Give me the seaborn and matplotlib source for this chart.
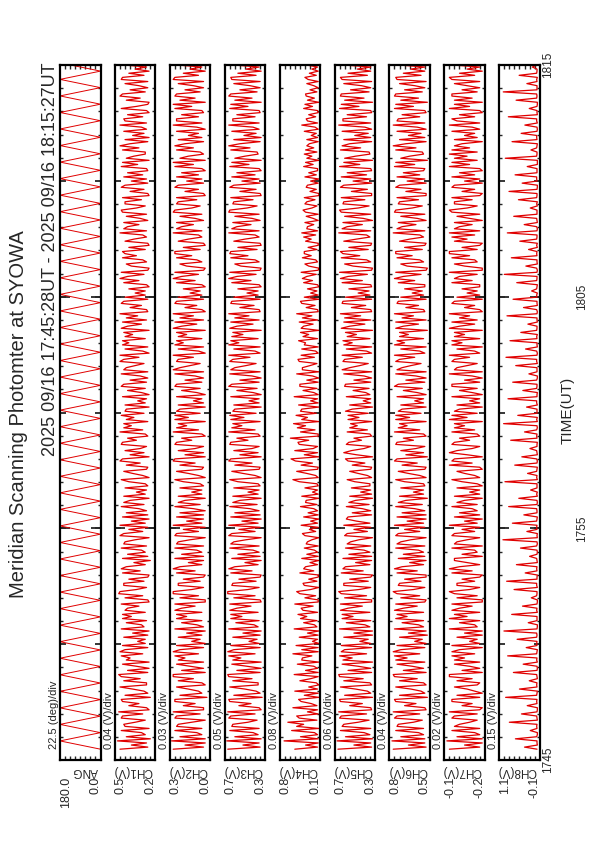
import numpy as np
import matplotlib.pyplot as plt
import matplotlib.transforms as mtransforms
import seaborn as sns

### Meridian scanning photometer, SYOWA  (page is the landscape plot turned 90 deg)
title = "Meridian Scanning Photomter at SYOWA"
period = "2025 09/16 17:45:28UT - 2025 09/16 18:15:27UT"
names = ["ANG", "CH1(V)", "CH2(V)", "CH3(V)", "CH4(V)", "CH5(V)", "CH6(V)", "CH7(V)", "CH8(V)"]
div_text = ["22.5 (deg)/div", "0.04 (V)/div", "0.03 (V)/div", "0.05 (V)/div", "0.08 (V)/div",
            "0.06 (V)/div", "0.04 (V)/div", "0.02 (V)/div", "0.15 (V)/div"]
lo = [0.0, 0.20, 0.04, 0.30, 0.15, 0.25, 0.50, -0.24, -0.10]
div = [22.5, 0.04, 0.03, 0.05, 0.08, 0.06, 0.04, 0.02, 0.15]
max_text = ["180.0", "0.5", "0.3", "0.7", "0.8", "0.7", "0.8", "-0.1", "1.1"]
min_text = ["0.0", "0.2", "0.0", "0.3", "0.1", "0.3", "0.5", "-0.2", "-0.1"]
time_ticks = [0, 10, 20, 30]          # minutes after 17:45
time_text = ["1745", "1755", "1805", "1815"]
t_first = 28 / 60                     # 17:45:28
t_last = 30 + 27 / 60                 # 18:15:27

# scan angle turning points (deg)
ang = [0, 180, 0, 180, 0, 180, 0, 180, 0, 180, 0, 180, 0, 180, 0, 180, 0,
       180, 0, 180, 0, 180, 0, 180, 0, 180, 0, 180, 0, 180, 0, 180, 0, 180,
       0, 180, 0, 180, 0, 180, 0, 180, 0, 180, 0, 180, 0, 180, 0, 180, 0,
       180, 0, 180, 0, 180, 0, 180, 0, 180, 0, 180, 0, 180, 0, 180, 0, 180,
       0, 180, 0, 180, 0, 180, 0, 180, 0, 180, 0, 180, 0, 180, 0, 180, 0]

ch1 = [0.48, 0.26, 0.39, 0.27, 0.50, 0.24, 0.43, 0.28, 0.31, 0.47, 0.25, 0.44, 0.45, 0.36, 0.28, 0.47,
       0.46, 0.30, 0.49, 0.25, 0.27, 0.41, 0.33, 0.46, 0.47, 0.24, 0.44, 0.26, 0.29, 0.38, 0.48, 0.27,
       0.27, 0.45, 0.32, 0.47, 0.49, 0.26, 0.42, 0.25, 0.35, 0.46, 0.25, 0.43, 0.40, 0.47, 0.30, 0.48,
       0.44, 0.26, 0.46, 0.28, 0.34, 0.28, 0.45, 0.26, 0.38, 0.25, 0.47, 0.29, 0.31, 0.43, 0.27, 0.46,
       0.39, 0.46, 0.28, 0.44, 0.42, 0.33, 0.47, 0.25, 0.26, 0.44, 0.30, 0.49, 0.48, 0.35, 0.27, 0.45,
       0.45, 0.29, 0.41, 0.26, 0.25, 0.46, 0.32, 0.47, 0.43, 0.28, 0.37, 0.24, 0.46, 0.26, 0.42, 0.28,
       0.31, 0.47, 0.27, 0.45, 0.44, 0.36, 0.25, 0.48, 0.45, 0.30, 0.41, 0.26, 0.48, 0.28, 0.39, 0.25,
       0.46, 0.26, 0.43, 0.27, 0.33, 0.47, 0.29, 0.45, 0.40, 0.25, 0.45, 0.28, 0.35, 0.27, 0.44, 0.26,
       0.28, 0.41, 0.47, 0.25, 0.30, 0.38, 0.45, 0.27, 0.26, 0.43, 0.32, 0.48, 0.46, 0.25, 0.40, 0.29,
       0.44, 0.32, 0.27, 0.47, 0.46, 0.35, 0.42, 0.26, 0.28, 0.48, 0.30, 0.45, 0.39, 0.45, 0.26, 0.43,
       0.37, 0.47, 0.29, 0.44, 0.43, 0.25, 0.44, 0.28, 0.34, 0.27, 0.46, 0.25, 0.31, 0.42, 0.28, 0.47,
       0.45, 0.27, 0.40, 0.26, 0.32, 0.47, 0.26, 0.45, 0.43, 0.36, 0.29, 0.48, 0.45, 0.33, 0.48, 0.25,
       0.30, 0.44, 0.26, 0.46, 0.41, 0.46, 0.28, 0.44, 0.38, 0.45, 0.25, 0.47, 0.42, 0.31, 0.46, 0.27,
       0.43, 0.34, 0.48, 0.26, 0.27, 0.40, 0.31, 0.47, 0.45, 0.26, 0.44, 0.28, 0.36, 0.28, 0.41, 0.25,
       0.27, 0.45, 0.33, 0.48, 0.42, 0.29, 0.47, 0.26, 0.25, 0.39, 0.43, 0.27, 0.30, 0.46, 0.35, 0.44,
       0.46, 0.28, 0.41, 0.25, 0.26, 0.44, 0.37, 0.27, 0.30, 0.48, 0.27, 0.45, 0.42, 0.33, 0.45, 0.26,
       0.32, 0.43, 0.27, 0.46, 0.47, 0.35, 0.28, 0.44, 0.44, 0.31, 0.46, 0.25, 0.26, 0.40, 0.29, 0.47,
       0.44, 0.26, 0.39, 0.27, 0.45, 0.30, 0.42, 0.26, 0.27, 0.47, 0.34, 0.46, 0.25, 0.43, 0.37, 0.28,
       0.28, 0.46, 0.33, 0.48, 0.40, 0.26, 0.44, 0.25, 0.38, 0.29, 0.45, 0.27, 0.31, 0.48, 0.27, 0.44,
       0.45, 0.30, 0.42, 0.25, 0.27, 0.47, 0.35, 0.26, 0.25, 0.43, 0.32, 0.48, 0.46, 0.28, 0.40, 0.26,
       0.33, 0.44, 0.26, 0.47, 0.46, 0.29, 0.41, 0.25, 0.36, 0.27, 0.45, 0.28, 0.30, 0.42, 0.38, 0.26]

ch2 = [0.26, 0.08, 0.19, 0.07, 0.27, 0.07, 0.22, 0.09, 0.12, 0.25, 0.09, 0.24, 0.23, 0.15, 0.07, 0.25,
       0.24, 0.10, 0.26, 0.08, 0.08, 0.20, 0.13, 0.25, 0.25, 0.06, 0.22, 0.09, 0.11, 0.17, 0.24, 0.07,
       0.09, 0.23, 0.14, 0.26, 0.26, 0.07, 0.21, 0.08, 0.16, 0.24, 0.08, 0.23, 0.19, 0.25, 0.11, 0.26,
       0.22, 0.08, 0.24, 0.07, 0.15, 0.10, 0.23, 0.09, 0.18, 0.07, 0.25, 0.08, 0.12, 0.21, 0.09, 0.24,
       0.18, 0.24, 0.09, 0.25, 0.21, 0.13, 0.25, 0.07, 0.07, 0.22, 0.11, 0.26, 0.26, 0.15, 0.08, 0.23,
       0.23, 0.10, 0.20, 0.08, 0.07, 0.24, 0.13, 0.26, 0.22, 0.09, 0.17, 0.08, 0.25, 0.08, 0.21, 0.09,
       0.12, 0.25, 0.08, 0.24, 0.23, 0.16, 0.07, 0.25, 0.24, 0.11, 0.20, 0.07, 0.26, 0.09, 0.18, 0.08,
       0.24, 0.08, 0.22, 0.07, 0.14, 0.25, 0.10, 0.23, 0.19, 0.07, 0.23, 0.09, 0.15, 0.09, 0.22, 0.08,
       0.10, 0.20, 0.25, 0.07, 0.11, 0.17, 0.24, 0.09, 0.08, 0.22, 0.13, 0.26, 0.25, 0.07, 0.19, 0.08,
       0.23, 0.13, 0.08, 0.25, 0.24, 0.15, 0.21, 0.07, 0.09, 0.26, 0.11, 0.24, 0.18, 0.23, 0.07, 0.25,
       0.17, 0.25, 0.10, 0.24, 0.22, 0.07, 0.23, 0.08, 0.14, 0.09, 0.24, 0.07, 0.12, 0.21, 0.10, 0.25,
       0.24, 0.09, 0.19, 0.08, 0.13, 0.25, 0.08, 0.26, 0.22, 0.16, 0.10, 0.24, 0.23, 0.14, 0.26, 0.07,
       0.11, 0.23, 0.08, 0.25, 0.20, 0.24, 0.09, 0.23, 0.18, 0.24, 0.07, 0.26, 0.21, 0.12, 0.25, 0.08,
       0.22, 0.14, 0.26, 0.07, 0.09, 0.19, 0.12, 0.25, 0.24, 0.08, 0.23, 0.09, 0.16, 0.10, 0.20, 0.07,
       0.09, 0.24, 0.13, 0.26, 0.21, 0.11, 0.25, 0.08, 0.07, 0.18, 0.22, 0.09, 0.12, 0.24, 0.15, 0.25,
       0.25, 0.10, 0.20, 0.07, 0.08, 0.23, 0.17, 0.09, 0.11, 0.26, 0.09, 0.24, 0.21, 0.14, 0.24, 0.08,
       0.13, 0.22, 0.09, 0.26, 0.25, 0.15, 0.10, 0.24, 0.23, 0.12, 0.24, 0.07, 0.08, 0.19, 0.11, 0.25,
       0.23, 0.08, 0.18, 0.09, 0.24, 0.11, 0.21, 0.07, 0.09, 0.25, 0.14, 0.26, 0.07, 0.22, 0.17, 0.08,
       0.10, 0.24, 0.14, 0.25, 0.19, 0.08, 0.23, 0.09, 0.17, 0.11, 0.24, 0.07, 0.12, 0.26, 0.09, 0.24,
       0.24, 0.11, 0.21, 0.08, 0.09, 0.25, 0.15, 0.26, 0.07, 0.22, 0.13, 0.25, 0.24, 0.10, 0.19, 0.08,
       0.14, 0.23, 0.08, 0.26, 0.25, 0.11, 0.20, 0.07, 0.16, 0.09, 0.24, 0.08, 0.12, 0.21, 0.18, 0.07]

ch3 = [0.67, 0.35, 0.52, 0.36, 0.68, 0.34, 0.60, 0.37, 0.42, 0.65, 0.36, 0.63, 0.62, 0.47, 0.38, 0.66,
       0.64, 0.40, 0.67, 0.34, 0.36, 0.56, 0.44, 0.65, 0.66, 0.33, 0.61, 0.35, 0.39, 0.50, 0.65, 0.37,
       0.37, 0.62, 0.43, 0.66, 0.67, 0.35, 0.58, 0.34, 0.48, 0.63, 0.34, 0.62, 0.54, 0.66, 0.40, 0.67,
       0.61, 0.35, 0.64, 0.36, 0.46, 0.38, 0.62, 0.35, 0.52, 0.34, 0.66, 0.37, 0.41, 0.59, 0.36, 0.64,
       0.53, 0.64, 0.37, 0.65, 0.58, 0.44, 0.65, 0.34, 0.35, 0.61, 0.40, 0.67, 0.67, 0.47, 0.36, 0.63,
       0.62, 0.39, 0.56, 0.35, 0.34, 0.64, 0.43, 0.66, 0.60, 0.37, 0.50, 0.34, 0.63, 0.35, 0.57, 0.36,
       0.42, 0.65, 0.36, 0.64, 0.61, 0.49, 0.34, 0.66, 0.63, 0.40, 0.56, 0.35, 0.66, 0.37, 0.53, 0.34,
       0.64, 0.35, 0.60, 0.36, 0.45, 0.65, 0.38, 0.62, 0.55, 0.34, 0.62, 0.37, 0.47, 0.36, 0.61, 0.35,
       0.37, 0.57, 0.65, 0.34, 0.40, 0.52, 0.63, 0.36, 0.35, 0.60, 0.43, 0.66, 0.64, 0.34, 0.55, 0.37,
       0.61, 0.43, 0.36, 0.65, 0.64, 0.47, 0.58, 0.35, 0.37, 0.66, 0.40, 0.63, 0.53, 0.62, 0.35, 0.64,
       0.51, 0.65, 0.39, 0.62, 0.60, 0.34, 0.61, 0.36, 0.46, 0.36, 0.64, 0.34, 0.42, 0.58, 0.38, 0.66,
       0.63, 0.36, 0.55, 0.34, 0.43, 0.65, 0.35, 0.64, 0.60, 0.49, 0.39, 0.65, 0.62, 0.45, 0.66, 0.35,
       0.40, 0.61, 0.35, 0.66, 0.56, 0.64, 0.37, 0.63, 0.52, 0.62, 0.34, 0.65, 0.58, 0.42, 0.64, 0.36,
       0.60, 0.46, 0.66, 0.35, 0.36, 0.55, 0.41, 0.64, 0.63, 0.35, 0.61, 0.37, 0.48, 0.37, 0.57, 0.34,
       0.36, 0.63, 0.44, 0.66, 0.58, 0.39, 0.65, 0.35, 0.34, 0.54, 0.60, 0.36, 0.40, 0.64, 0.47, 0.65,
       0.64, 0.38, 0.57, 0.34, 0.35, 0.61, 0.50, 0.36, 0.40, 0.66, 0.36, 0.63, 0.58, 0.44, 0.62, 0.35,
       0.43, 0.60, 0.36, 0.66, 0.65, 0.48, 0.38, 0.62, 0.61, 0.42, 0.64, 0.34, 0.35, 0.55, 0.39, 0.65,
       0.61, 0.35, 0.53, 0.36, 0.63, 0.40, 0.58, 0.34, 0.36, 0.65, 0.46, 0.63, 0.34, 0.60, 0.50, 0.37,
       0.38, 0.64, 0.45, 0.66, 0.55, 0.35, 0.61, 0.34, 0.51, 0.39, 0.63, 0.36, 0.42, 0.66, 0.36, 0.62,
       0.62, 0.40, 0.58, 0.35, 0.36, 0.65, 0.47, 0.64, 0.34, 0.60, 0.43, 0.66, 0.64, 0.38, 0.55, 0.35,
       0.45, 0.61, 0.35, 0.63, 0.64, 0.39, 0.57, 0.34, 0.49, 0.36, 0.62, 0.35, 0.41, 0.58, 0.52, 0.36]

ch4 = [0.55, 0.19, 0.38, 0.18, 0.72, 0.18, 0.46, 0.19, 0.24, 0.60, 0.17, 0.52, 0.41, 0.66, 0.20, 0.48,
       0.52, 0.18, 0.35, 0.19, 0.58, 0.20, 0.29, 0.45, 0.49, 0.17, 0.40, 0.18, 0.55, 0.19, 0.33, 0.17,
       0.21, 0.47, 0.30, 0.18, 0.56, 0.18, 0.38, 0.19, 0.25, 0.51, 0.17, 0.44, 0.43, 0.28, 0.58, 0.18,
       0.44, 0.18, 0.53, 0.17, 0.27, 0.19, 0.48, 0.18, 0.35, 0.17, 0.56, 0.20, 0.24, 0.41, 0.20, 0.46,
       0.36, 0.50, 0.19, 0.42, 0.45, 0.26, 0.55, 0.18, 0.18, 0.39, 0.22, 0.47, 0.52, 0.30, 0.17, 0.40,
       0.42, 0.20, 0.33, 0.18, 0.17, 0.47, 0.25, 0.41, 0.38, 0.19, 0.31, 0.17, 0.44, 0.18, 0.36, 0.19,
       0.24, 0.40, 0.18, 0.37, 0.35, 0.28, 0.17, 0.39, 0.43, 0.22, 0.32, 0.18, 0.45, 0.19, 0.30, 0.17,
       0.41, 0.18, 0.34, 0.19, 0.25, 0.46, 0.20, 0.38, 0.37, 0.17, 0.44, 0.18, 0.27, 0.19, 0.39, 0.18,
       0.20, 0.48, 0.58, 0.18, 0.22, 0.36, 0.52, 0.19, 0.18, 0.45, 0.27, 0.54, 0.61, 0.17, 0.40, 0.19,
       0.55, 0.26, 0.19, 0.48, 0.50, 0.33, 0.62, 0.18, 0.18, 0.46, 0.23, 0.51, 0.38, 0.57, 0.17, 0.44,
       0.35, 0.53, 0.21, 0.46, 0.44, 0.17, 0.49, 0.18, 0.30, 0.19, 0.56, 0.18, 0.25, 0.42, 0.20, 0.47,
       0.47, 0.18, 0.36, 0.17, 0.27, 0.52, 0.17, 0.43, 0.43, 0.31, 0.20, 0.48, 0.50, 0.24, 0.45, 0.18,
       0.22, 0.44, 0.18, 0.40, 0.38, 0.49, 0.19, 0.42, 0.33, 0.46, 0.17, 0.45, 0.41, 0.26, 0.48, 0.19,
       0.43, 0.28, 0.52, 0.18, 0.19, 0.37, 0.23, 0.44, 0.46, 0.17, 0.40, 0.18, 0.30, 0.20, 0.35, 0.17,
       0.19, 0.41, 0.27, 0.43, 0.36, 0.21, 0.45, 0.18, 0.17, 0.33, 0.39, 0.19, 0.22, 0.43, 0.29, 0.40,
       0.40, 0.20, 0.34, 0.18, 0.18, 0.38, 0.29, 0.41, 0.22, 0.44, 0.19, 0.36, 0.35, 0.25, 0.39, 0.18,
       0.26, 0.37, 0.18, 0.38, 0.42, 0.28, 0.20, 0.39, 0.36, 0.23, 0.40, 0.17, 0.17, 0.31, 0.21, 0.37,
       0.35, 0.18, 0.30, 0.17, 0.39, 0.21, 0.33, 0.19, 0.19, 0.41, 0.26, 0.38, 0.17, 0.36, 0.28, 0.40,
       0.20, 0.38, 0.25, 0.36, 0.32, 0.18, 0.36, 0.19, 0.29, 0.21, 0.40, 0.18, 0.23, 0.44, 0.19, 0.35,
       0.37, 0.22, 0.33, 0.18, 0.19, 0.41, 0.27, 0.39, 0.17, 0.35, 0.24, 0.37, 0.38, 0.20, 0.31, 0.18,
       0.25, 0.36, 0.18, 0.34, 0.39, 0.21, 0.32, 0.18, 0.28, 0.19, 0.37, 0.20, 0.22, 0.34, 0.30, 0.19]

ch5 = [0.69, 0.29, 0.50, 0.30, 0.70, 0.28, 0.60, 0.31, 0.38, 0.66, 0.30, 0.64, 0.62, 0.45, 0.32, 0.67,
       0.65, 0.35, 0.68, 0.29, 0.30, 0.55, 0.40, 0.66, 0.67, 0.28, 0.61, 0.30, 0.34, 0.48, 0.66, 0.29,
       0.31, 0.62, 0.39, 0.67, 0.68, 0.29, 0.57, 0.30, 0.45, 0.64, 0.28, 0.63, 0.52, 0.67, 0.35, 0.65,
       0.61, 0.29, 0.65, 0.30, 0.43, 0.33, 0.62, 0.28, 0.50, 0.28, 0.67, 0.31, 0.37, 0.59, 0.30, 0.64,
       0.51, 0.64, 0.31, 0.66, 0.57, 0.40, 0.66, 0.29, 0.29, 0.61, 0.35, 0.65, 0.68, 0.44, 0.30, 0.62,
       0.62, 0.33, 0.55, 0.30, 0.28, 0.65, 0.39, 0.63, 0.60, 0.31, 0.48, 0.29, 0.63, 0.29, 0.56, 0.31,
       0.38, 0.60, 0.30, 0.58, 0.54, 0.44, 0.28, 0.61, 0.58, 0.34, 0.50, 0.30, 0.62, 0.31, 0.47, 0.59,
       0.57, 0.29, 0.52, 0.30, 0.40, 0.59, 0.32, 0.56, 0.48, 0.28, 0.55, 0.29, 0.42, 0.30, 0.53, 0.31,
       0.31, 0.49, 0.58, 0.29, 0.34, 0.45, 0.55, 0.30, 0.29, 0.52, 0.37, 0.57, 0.60, 0.28, 0.47, 0.62,
       0.53, 0.38, 0.30, 0.59, 0.56, 0.41, 0.50, 0.29, 0.31, 0.58, 0.34, 0.55, 0.46, 0.54, 0.29, 0.57,
       0.44, 0.57, 0.33, 0.60, 0.52, 0.28, 0.55, 0.30, 0.39, 0.30, 0.59, 0.31, 0.36, 0.51, 0.32, 0.61,
       0.60, 0.30, 0.50, 0.29, 0.38, 0.62, 0.29, 0.64, 0.55, 0.43, 0.33, 0.63, 0.61, 0.40, 0.64, 0.29,
       0.35, 0.59, 0.29, 0.62, 0.52, 0.63, 0.31, 0.58, 0.47, 0.60, 0.28, 0.65, 0.55, 0.37, 0.62, 0.30,
       0.61, 0.42, 0.66, 0.29, 0.30, 0.53, 0.36, 0.64, 0.63, 0.29, 0.60, 0.31, 0.45, 0.32, 0.56, 0.29,
       0.30, 0.64, 0.40, 0.66, 0.57, 0.34, 0.67, 0.29, 0.28, 0.51, 0.61, 0.30, 0.35, 0.65, 0.43, 0.63,
       0.66, 0.33, 0.56, 0.30, 0.29, 0.62, 0.47, 0.31, 0.35, 0.68, 0.30, 0.64, 0.58, 0.40, 0.63, 0.28,
       0.39, 0.61, 0.30, 0.65, 0.67, 0.45, 0.32, 0.63, 0.62, 0.37, 0.65, 0.29, 0.29, 0.53, 0.34, 0.66,
       0.62, 0.29, 0.51, 0.30, 0.65, 0.35, 0.58, 0.29, 0.30, 0.67, 0.43, 0.62, 0.28, 0.61, 0.48, 0.31,
       0.32, 0.66, 0.42, 0.64, 0.55, 0.29, 0.62, 0.30, 0.49, 0.33, 0.64, 0.29, 0.37, 0.68, 0.30, 0.63,
       0.63, 0.35, 0.58, 0.29, 0.30, 0.67, 0.44, 0.65, 0.28, 0.61, 0.38, 0.66, 0.65, 0.32, 0.54, 0.30,
       0.41, 0.62, 0.29, 0.64, 0.66, 0.34, 0.57, 0.30, 0.46, 0.30, 0.63, 0.29, 0.36, 0.59, 0.50, 0.31]

ch6 = [0.79, 0.53, 0.67, 0.54, 0.80, 0.54, 0.73, 0.55, 0.59, 0.77, 0.55, 0.76, 0.75, 0.63, 0.56, 0.78,
       0.76, 0.58, 0.79, 0.53, 0.54, 0.70, 0.61, 0.77, 0.78, 0.52, 0.74, 0.54, 0.57, 0.65, 0.77, 0.53,
       0.55, 0.74, 0.60, 0.78, 0.79, 0.53, 0.71, 0.55, 0.64, 0.76, 0.54, 0.77, 0.68, 0.78, 0.58, 0.79,
       0.73, 0.54, 0.76, 0.53, 0.62, 0.56, 0.74, 0.52, 0.67, 0.53, 0.78, 0.55, 0.59, 0.72, 0.55, 0.77,
       0.68, 0.76, 0.55, 0.78, 0.71, 0.60, 0.77, 0.54, 0.53, 0.73, 0.58, 0.76, 0.79, 0.63, 0.54, 0.75,
       0.74, 0.57, 0.70, 0.53, 0.53, 0.76, 0.60, 0.78, 0.72, 0.55, 0.66, 0.53, 0.75, 0.54, 0.71, 0.55,
       0.59, 0.77, 0.54, 0.76, 0.73, 0.65, 0.53, 0.77, 0.75, 0.58, 0.70, 0.54, 0.78, 0.55, 0.68, 0.53,
       0.76, 0.53, 0.72, 0.54, 0.62, 0.77, 0.56, 0.75, 0.69, 0.52, 0.74, 0.55, 0.63, 0.55, 0.73, 0.54,
       0.55, 0.70, 0.77, 0.53, 0.58, 0.67, 0.75, 0.54, 0.53, 0.72, 0.60, 0.78, 0.76, 0.52, 0.69, 0.55,
       0.73, 0.61, 0.54, 0.77, 0.76, 0.63, 0.71, 0.53, 0.55, 0.78, 0.58, 0.75, 0.68, 0.74, 0.53, 0.77,
       0.66, 0.77, 0.57, 0.75, 0.72, 0.53, 0.73, 0.55, 0.62, 0.55, 0.76, 0.53, 0.60, 0.71, 0.56, 0.78,
       0.75, 0.54, 0.69, 0.53, 0.61, 0.77, 0.53, 0.76, 0.72, 0.65, 0.57, 0.77, 0.74, 0.62, 0.78, 0.54,
       0.58, 0.73, 0.53, 0.78, 0.70, 0.76, 0.55, 0.74, 0.67, 0.74, 0.52, 0.77, 0.71, 0.59, 0.77, 0.53,
       0.72, 0.63, 0.78, 0.54, 0.55, 0.69, 0.59, 0.76, 0.75, 0.53, 0.73, 0.55, 0.64, 0.56, 0.70, 0.54,
       0.54, 0.75, 0.62, 0.78, 0.71, 0.57, 0.77, 0.53, 0.52, 0.68, 0.73, 0.55, 0.58, 0.76, 0.64, 0.77,
       0.77, 0.56, 0.70, 0.54, 0.53, 0.74, 0.66, 0.55, 0.58, 0.79, 0.54, 0.76, 0.72, 0.61, 0.75, 0.53,
       0.60, 0.73, 0.54, 0.78, 0.77, 0.64, 0.56, 0.75, 0.74, 0.59, 0.76, 0.53, 0.53, 0.69, 0.57, 0.77,
       0.74, 0.53, 0.68, 0.54, 0.76, 0.58, 0.71, 0.55, 0.54, 0.78, 0.62, 0.77, 0.52, 0.73, 0.66, 0.55,
       0.56, 0.77, 0.61, 0.79, 0.69, 0.53, 0.74, 0.54, 0.67, 0.57, 0.76, 0.53, 0.60, 0.79, 0.54, 0.76,
       0.75, 0.58, 0.72, 0.53, 0.54, 0.78, 0.63, 0.77, 0.52, 0.73, 0.59, 0.78, 0.77, 0.56, 0.70, 0.54,
       0.62, 0.74, 0.53, 0.76, 0.77, 0.57, 0.71, 0.54, 0.65, 0.54, 0.75, 0.53, 0.58, 0.72, 0.67, 0.55]

ch7 = [-0.10, -0.22, -0.16, -0.23, -0.09, -0.23, -0.13, -0.22, -0.20, -0.11, -0.22, -0.12, -0.14, -0.18, -0.21, -0.11,
       -0.12, -0.21, -0.10, -0.22, -0.23, -0.15, -0.19, -0.11, -0.11, -0.22, -0.13, -0.23, -0.20, -0.17, -0.12, -0.21,
       -0.22, -0.13, -0.19, -0.10, -0.10, -0.23, -0.15, -0.22, -0.18, -0.12, -0.22, -0.12, -0.16, -0.11, -0.20, -0.11,
       -0.14, -0.23, -0.11, -0.22, -0.18, -0.21, -0.13, -0.23, -0.16, -0.23, -0.10, -0.21, -0.20, -0.14, -0.22, -0.10,
       -0.17, -0.12, -0.22, -0.11, -0.14, -0.19, -0.11, -0.23, -0.23, -0.13, -0.21, -0.12, -0.10, -0.18, -0.22, -0.13,
       -0.13, -0.20, -0.15, -0.22, -0.23, -0.11, -0.19, -0.10, -0.14, -0.22, -0.17, -0.12, -0.12, -0.23, -0.15, -0.21,
       -0.20, -0.11, -0.23, -0.12, -0.13, -0.17, -0.22, -0.11, -0.12, -0.20, -0.15, -0.22, -0.10, -0.21, -0.16, -0.23,
       -0.12, -0.22, -0.14, -0.21, -0.19, -0.11, -0.21, -0.13, -0.16, -0.23, -0.12, -0.22, -0.18, -0.22, -0.13, -0.23,
       -0.21, -0.15, -0.11, -0.22, -0.20, -0.16, -0.13, -0.23, -0.22, -0.10, -0.19, -0.11, -0.12, -0.23, -0.17, -0.10,
       -0.13, -0.19, -0.22, -0.11, -0.12, -0.18, -0.14, -0.22, -0.21, -0.11, -0.20, -0.12, -0.16, -0.12, -0.23, -0.10,
       -0.17, -0.11, -0.21, -0.12, -0.14, -0.23, -0.13, -0.22, -0.18, -0.22, -0.11, -0.23, -0.19, -0.14, -0.21, -0.11,
       -0.11, -0.22, -0.16, -0.23, -0.19, -0.10, -0.23, -0.12, -0.13, -0.17, -0.21, -0.11, -0.12, -0.18, -0.10, -0.22,
       -0.20, -0.13, -0.23, -0.11, -0.15, -0.11, -0.22, -0.12, -0.16, -0.12, -0.23, -0.10, -0.14, -0.20, -0.11, -0.21,
       -0.14, -0.18, -0.10, -0.23, -0.22, -0.16, -0.20, -0.11, -0.12, -0.23, -0.13, -0.22, -0.17, -0.21, -0.15, -0.22,
       -0.22, -0.11, -0.19, -0.12, -0.14, -0.21, -0.10, -0.23, -0.23, -0.16, -0.12, -0.21, -0.20, -0.11, -0.18, -0.10,
       -0.10, -0.21, -0.15, -0.22, -0.23, -0.12, -0.17, -0.11, -0.20, -0.10, -0.22, -0.12, -0.14, -0.19, -0.12, -0.23,
       -0.18, -0.13, -0.22, -0.11, -0.10, -0.17, -0.21, -0.12, -0.12, -0.19, -0.11, -0.22, -0.23, -0.15, -0.20, -0.11,
       -0.12, -0.23, -0.16, -0.22, -0.11, -0.20, -0.14, -0.23, -0.22, -0.10, -0.18, -0.11, -0.21, -0.12, -0.17, -0.10,
       -0.21, -0.11, -0.18, -0.12, -0.15, -0.23, -0.12, -0.21, -0.16, -0.20, -0.11, -0.22, -0.19, -0.10, -0.22, -0.13,
       -0.11, -0.20, -0.14, -0.23, -0.22, -0.10, -0.18, -0.12, -0.23, -0.12, -0.19, -0.11, -0.11, -0.21, -0.15, -0.22,
       -0.17, -0.12, -0.22, -0.11, -0.10, -0.20, -0.14, -0.23, -0.17, -0.22, -0.11, -0.21, -0.19, -0.13, -0.16, -0.22]

ch8 = [-0.02, 0.35, -0.03, -0.02, -0.02, 0.62, -0.01, -0.03, -0.03, 0.18, -0.02, -0.01, -0.02, 0.80, -0.03, -0.02,
       -0.01, 0.44, -0.02, -0.03, -0.03, 0.27, -0.02, -0.01, -0.02, 0.91, -0.01, -0.02, -0.03, 0.50, -0.02, -0.01,
       -0.02, 0.21, -0.03, -0.02, -0.01, 0.68, -0.02, -0.03, -0.02, 0.39, -0.03, -0.01, -0.02, 0.85, -0.01, -0.02,
       -0.03, 0.30, -0.02, -0.01, -0.02, 0.57, -0.01, -0.02, -0.01, 0.96, -0.02, -0.03, -0.03, 0.24, -0.02, -0.02,
       -0.02, 0.73, -0.03, -0.01, -0.02, 0.41, -0.02, -0.03, -0.03, 0.15, -0.01, -0.02, -0.02, 0.66, -0.03, -0.01,
       -0.01, 0.88, -0.02, -0.02, -0.03, 0.33, -0.02, -0.01, -0.02, 0.59, -0.03, -0.02, -0.01, 0.20, -0.02, -0.03,
       -0.02, 0.47, -0.01, -0.03, -0.02, 0.99, -0.03, -0.02, -0.03, 0.28, -0.02, -0.01, -0.02, 0.71, -0.01, -0.02,
       -0.03, 0.37, -0.02, -0.02, -0.01, 0.82, -0.02, -0.03, -0.02, 0.52, -0.03, -0.01, -0.03, 0.17, -0.02, -0.02,
       -0.02, 0.93, -0.03, -0.01, -0.02, 0.26, -0.01, -0.02, -0.03, 0.64, -0.02, -0.03, -0.01, 0.43, -0.03, -0.02,
       -0.01, 0.19, -0.02, -0.02, -0.03, 0.76, -0.02, -0.01, -0.02, 0.35, -0.01, -0.03, -0.02, 0.97, -0.03, -0.01,
       -0.03, 0.55, -0.02, -0.02, -0.02, 0.29, -0.03, -0.01, -0.01, 0.84, -0.02, -0.02, -0.03, 0.40, -0.01, -0.02,
       -0.02, 0.70, -0.01, -0.03, -0.03, 0.22, -0.02, -0.02, -0.02, 0.61, -0.03, -0.01, -0.01, 0.90, -0.02, -0.03,
       -0.01, 0.32, -0.03, -0.02, -0.02, 0.78, -0.02, -0.01, -0.03, 0.46, -0.01, -0.02, -0.02, 0.25, -0.03, -0.02,
       -0.02, 0.87, -0.02, -0.03, -0.01, 0.38, -0.03, -0.02, -0.02, 0.69, -0.02, -0.01, -0.03, 0.14, -0.01, -0.02,
       -0.03, 0.58, -0.01, -0.02, -0.02, 0.95, -0.02, -0.03, -0.01, 0.31, -0.03, -0.02, -0.02, 0.74, -0.02, -0.01,
       -0.02, 0.23, -0.03, -0.01, -0.03, 0.49, -0.01, -0.02, -0.02, 0.86, -0.02, -0.03, -0.01, 0.36, -0.03, -0.02,
       -0.01, 0.67, -0.02, -0.02, -0.02, 0.18, -0.03, -0.01, -0.03, 0.53, -0.01, -0.02, -0.02, 0.81, -0.02, -0.03,
       -0.03, 0.42, -0.02, -0.01, -0.01, 0.63, -0.02, -0.02, -0.02, 0.27, -0.03, -0.03, -0.03, 0.92, -0.01, -0.02,
       -0.02, 0.16, -0.01, -0.02, -0.03, 0.72, -0.02, -0.01, -0.01, 0.45, -0.02, -0.03, -0.02, 0.34, -0.03, -0.01,
       -0.01, 0.83, -0.03, -0.02, -0.02, 0.21, -0.02, -0.03, -0.03, 0.60, -0.01, -0.02, -0.01, 0.98, -0.02, -0.02,
       -0.02, 0.28, -0.02, -0.01, -0.03, 0.51, -0.01, -0.02, -0.02, 0.12, -0.03, -0.03, -0.02, 0.75, -0.02, -0.01]

series = [ang, ch1, ch2, ch3, ch4, ch5, ch6, ch7, ch8]

sns.set_style("white")
plt.rcParams['font.family'] = ['Liberation Sans', 'DejaVu Sans']

W, H = 595, 842
fig = plt.figure(figsize=(W / 100, H / 100), dpi=100)
fig.text(19 / W, 1 - 414 / H, title, rotation=90, ha='center', va='center', fontsize=14.5)
fig.text(51 / W, 1 - 62 / H, period, rotation=90, ha='center', va='top', fontsize=13)

pw, ph = 40.5, 695   # panel size in px
for i in range(9):
    vals = np.array(series[i])
    tt = np.linspace(t_first, t_last, len(vals))
    x0 = 60 + 54.9 * i
    ax = fig.add_axes([x0 / W, 82 / H, pw / W, ph / H])
    sns.lineplot(x=vals, y=tt, orient='y', estimator=None, color='#e00000',
                 linewidth=0.7 if i == 0 else 0.9, ax=ax)
    ax.set_xlim(lo[i] + 8 * div[i], lo[i])
    ax.set_ylim(0, 30)
    ax.set_xlabel('')
    ax.set_ylabel('')
    ax.set_xticks([lo[i] + k * div[i] for k in range(1, 8)])
    ax.set_yticks(range(0, 31, 5))
    ax.set_yticks(range(0, 31), minor=True)
    ax.tick_params(axis='x', which='both', direction='in', length=3, width=1,
                   top=True, bottom=True, labelbottom=False, labeltop=False)
    ax.tick_params(axis='y', which='major', direction='in', length=4.5, width=1.3,
                   left=True, right=True, labelleft=False, labelright=False)
    ax.tick_params(axis='y', which='minor', direction='in', length=2.5, width=1,
                   left=True, right=True)
    for side in ['left', 'right']:
        sec = ax.secondary_yaxis(side)
        sec.set_yticks(time_ticks[1:3])
        sec.set_yticklabels([])
        sec.tick_params(direction='in', length=7, width=1.3)
        sec.spines[side].set_visible(False)
    for s in ax.spines.values():
        s.set_linewidth(1.6)
        s.set_color('black')

    ax.text(-6 / pw, 11 / ph, div_text[i], rotation=90, ha='center', va='bottom',
            fontsize=8, transform=ax.transAxes)
    ax.text((pw - 3) / pw, -5 / ph, names[i], rotation=180, ha='right', va='top',
            fontsize=8.5, transform=ax.transAxes)
    ax.text(6 / pw, -17 / ph, max_text[i], rotation=90, ha='center', va='top',
            fontsize=9, transform=ax.transAxes)
    ax.text((pw - 5) / pw, -17 / ph, min_text[i], rotation=90, ha='center', va='top',
            fontsize=9, transform=ax.transAxes)

# time axis labels beside the last panel
tr = mtransforms.blended_transform_factory(ax.transAxes, ax.transData)
for m, lab in zip(time_ticks, time_text):
    xa = (548 - x0) / pw if m in (0, 30) else (582 - x0) / pw
    ax.text(xa, m, lab, rotation=90, ha='center', va='center', fontsize=8.5, transform=tr)
ax.text((568 - x0) / pw, (760 - 410) / ph, 'TIME(UT)', rotation=90, ha='center',
        va='center', fontsize=11, transform=ax.transAxes)

fig.savefig('out.png', dpi=100)
